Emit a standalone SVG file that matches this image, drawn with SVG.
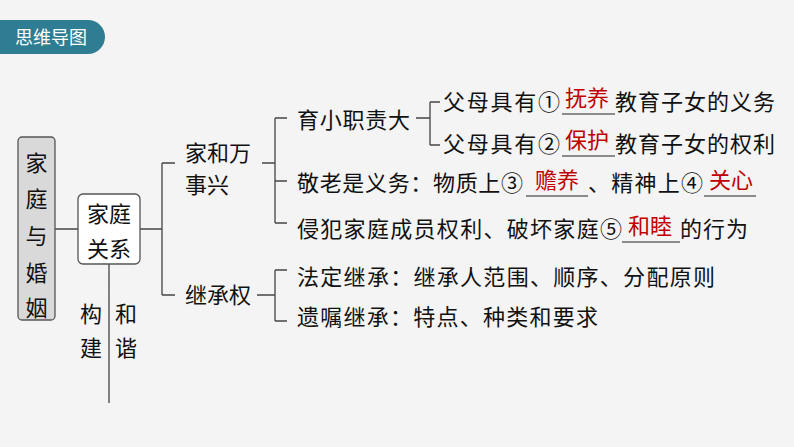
<svg xmlns="http://www.w3.org/2000/svg" width="794" height="447" viewBox="0 0 794 447">
<style>
text{font-family:"Noto Sans CJK SC","Noto Sans",sans-serif;font-size:22px;fill:#111}
.r{fill:#c00000;text-anchor:middle}
.ln{stroke:#444;stroke-width:1.3;fill:none}
.u{stroke:#222;stroke-width:1.2}
</style>
<rect width="794" height="447" fill="#f4f4f4"/>
<g id="header"><path d="M0 20 H88 A17 17 0 0 1 88 54 H0 Z" fill="#2e7d93"/><text x="15" y="44" style="fill:#fff;font-size:18px">思维导图</text></g>
<g id="connectors" class="ln">
<path d="M55 229 H78 M140 229 H162 M162 163 V295 M162 163 H175 M162 295 H175 M109 264 V403"/>
<path d="M262 163 H275 M275 118 V223 M275 118 H287 M275 181 H287 M275 223 H287"/>
<path d="M257 295 H275 M275 270 V321 M275 270 H287 M275 321 H287"/>
<path d="M416 118 H430 M430 102 V145 M430 102 H440 M430 145 H440"/>
</g>
<g id="root"><rect x="18" y="137" width="37" height="183" rx="4" fill="#d9d9d9" stroke="#555" stroke-width="1.3"/>
<text x="36.5" y="171" text-anchor="middle">家</text><text x="36.5" y="207" text-anchor="middle">庭</text><text x="36.5" y="244" text-anchor="middle">与</text><text x="36.5" y="281" text-anchor="middle">婚</text><text x="36.5" y="316" text-anchor="middle">姻</text></g>
<g id="n2"><rect x="78" y="194" width="62" height="70" rx="5" fill="#fff" stroke="#555" stroke-width="1.3"/>
<text x="109" y="222" text-anchor="middle">家庭</text><text x="109" y="257" text-anchor="middle">关系</text></g>
<g id="label"><text x="91" y="322" text-anchor="middle">构</text><text x="126" y="322" text-anchor="middle">和</text><text x="91" y="356" text-anchor="middle">建</text><text x="126" y="356" text-anchor="middle">谐</text></g>
<g id="n3"><text x="185" y="161">家和万</text><text x="185" y="193">事兴</text></g>
<g id="n4"><text x="185" y="303">继承权</text></g>
<g id="n5"><text x="297" y="128" textLength="113">育小职责大</text></g>
<g id="n6"><text x="443" y="110" textLength="117">父母具有①</text><line class="u" x1="562" y1="114" x2="615" y2="114"/><text class="r" x="587" y="106">抚养</text><text x="615" y="110" textLength="160">教育子女的义务</text></g>
<g id="n7"><text x="443" y="152" textLength="117">父母具有②</text><line class="u" x1="562" y1="156" x2="615" y2="156"/><text class="r" x="587" y="148">保护</text><text x="615" y="152" textLength="160">教育子女的权利</text></g>
<g id="n8"><text x="297" y="191" textLength="226">敬老是义务：物质上③</text><line class="u" x1="526" y1="196" x2="588" y2="196"/><text class="r" x="557" y="188">赡养</text><text x="588" y="191" textLength="115">、精神上④</text><line class="u" x1="704" y1="196" x2="756" y2="196"/><text class="r" x="731" y="188">关心</text></g>
<g id="n9"><text x="297" y="237" textLength="325">侵犯家庭成员权利、破坏家庭⑤</text><line class="u" x1="622" y1="242" x2="680" y2="242"/><text class="r" x="650" y="234">和睦</text><text x="680" y="237" textLength="68">的行为</text></g>
<g id="n10"><text x="297" y="285" textLength="418">法定继承：继承人范围、顺序、分配原则</text></g>
<g id="n11"><text x="297" y="325" textLength="301">遗嘱继承：特点、种类和要求</text></g>
</svg>
